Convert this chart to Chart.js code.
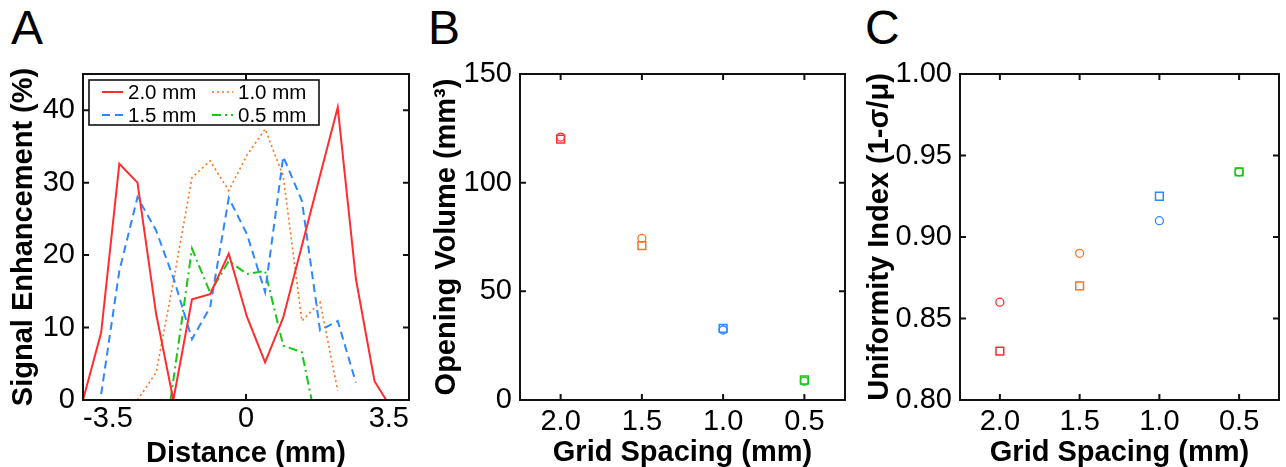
<!DOCTYPE html>
<html>
<head>
<meta charset="utf-8">
<script src="https://cdn.jsdelivr.net/npm/chart.js@4"></script>
<style>
  body { margin: 0; background: #fff; width: 1286px; height: 467px; overflow: hidden; position: relative; }
  .panel { position: absolute; top: 0; }
  .letter { position: absolute; top: 0; font-family: "Liberation Sans", Arial, sans-serif; font-size: 48px; color: #000; }
</style>
</head>
<body>
<div class="letter" style="left:11px">A</div>
<div class="letter" style="left:428px">B</div>
<div class="letter" style="left:865px">C</div>
<canvas class="panel" id="chartA" width="420" height="467" style="left:0px"></canvas>
<canvas class="panel" id="chartB" width="440" height="467" style="left:420px"></canvas>
<canvas class="panel" id="chartC" width="426" height="467" style="left:860px"></canvas>
<script>
// panel A: signal enhancement profiles
var labelsA = ["2.0 mm", "1.5 mm", "1.0 mm", "0.5 mm"];
var distRed = [-3.5, -3.11, -2.72, -2.33, -1.93, -1.56, -1.16, -0.77, -0.37, 0.02, 0.41, 0.80, 1.20, 1.59, 1.97, 2.36, 2.76, 3.01];
var enhRed = [0, 9.3, 32.6, 30, 11.9, 0, 13.9, 14.6, 20.2, 11.5, 5.2, 11.4, 21.3, 31, 40.4, 16.7, 2.6, 0];
var distBlue = [-3.11, -2.72, -2.33, -1.93, -1.54, -1.16, -0.77, -0.37, 0.02, 0.41, 0.80, 1.20, 1.59, 1.97, 2.36];
var enhBlue = [0.8, 17.8, 28, 23.4, 16.5, 8.4, 12.8, 27.9, 22.9, 14.9, 33.6, 27.5, 9.6, 10.9, 2.4];
var distOrange = [-2.33, -1.93, -1.54, -1.16, -0.77, -0.37, 0.02, 0.41, 0.80, 1.20, 1.59, 1.97];
var enhOrange = [0, 3.8, 17, 30.7, 33, 28.9, 33.8, 37.4, 30.9, 10.9, 13.5, 1.3];
var distGreen = [-1.62, -1.16, -0.77, -0.37, 0.02, 0.41, 0.80, 1.20, 1.41];
var enhGreen = [0, 20.9, 14.8, 19.2, 17.4, 17.8, 7.5, 6.6, 0];
var distanceTicks = [-3.5, 0, 3.5];
var enhancementTicks = [0, 10, 20, 30, 40];

// panels B and C: per grid spacing
var spacing = [2.0, 1.5, 1.0, 0.5];
var spacingTicks = [2.0, 1.5, 1.0, 0.5];
var volumeCircle = [121, 74.4, 32.2, 8.7];
var volumeSquare = [120, 71, 33, 9.2];
var volumeTicks = [0, 50, 100, 150];
var uniformityCircle = [0.860, 0.890, 0.910, 0.940];
var uniformitySquare = [0.830, 0.870, 0.925, 0.940];
var uniformityTicks = [0.80, 0.85, 0.90, 0.95, 1.00];

var red = "rgb(255,45,45)";
var blue = "rgb(45,135,255)";
var orange = "rgb(255,115,30)";
var green = "rgb(20,200,20)";
var pointColors = [red, orange, blue, green];
var fontFamily = '"Liberation Sans", Arial, sans-serif';

function toPoints(xs, ys) {
    return xs.map(function (x, i) { return { x: x, y: ys[i] }; });
}

function fixTicks(values) {
    return function (scale) {
        scale.ticks = values.map(function (v) { return { value: v }; });
    };
}

// box around the plot area with inward tick marks on all four sides
var frameTicks = {
    id: "frameTicks",
    afterDraw: function (chart) {
        var ctx = chart.ctx;
        var a = chart.chartArea;
        var xs = chart.scales.x, ys = chart.scales.y;
        ctx.save();
        ctx.strokeStyle = "#111";
        ctx.lineWidth = 2;
        ctx.strokeRect(a.left, a.top, a.right - a.left, a.bottom - a.top);
        ctx.beginPath();
        xs.ticks.forEach(function (t) {
            var px = xs.getPixelForValue(t.value);
            ctx.moveTo(px, a.bottom); ctx.lineTo(px, a.bottom - 6);
            ctx.moveTo(px, a.top); ctx.lineTo(px, a.top + 6);
        });
        ys.ticks.forEach(function (t) {
            var py = ys.getPixelForValue(t.value);
            ctx.moveTo(a.left, py); ctx.lineTo(a.left + 6, py);
            ctx.moveTo(a.right, py); ctx.lineTo(a.right - 6, py);
        });
        ctx.stroke();
        ctx.restore();
    }
};

// boxed two-column legend inside panel A
var boxedLegend = {
    id: "boxedLegend",
    afterDraw: function (chart) {
        var ctx = chart.ctx;
        var a = chart.chartArea;
        var bx = a.left + 6, by = a.top + 6;
        ctx.save();
        ctx.fillStyle = "#fff";
        ctx.fillRect(bx, by, 230, 45);
        ctx.strokeStyle = "#111";
        ctx.lineWidth = 1.6;
        ctx.strokeRect(bx, by, 230, 45);
        ctx.font = "20.5px " + fontFamily;
        ctx.textBaseline = "middle";
        chart.data.datasets.forEach(function (ds, i) {
            var col = Math.floor(i / 2), row = i % 2;
            var lx = bx + 13 + col * 110;
            var ly = by + 12 + row * 23;
            ctx.strokeStyle = ds.borderColor;
            ctx.lineWidth = ds.borderWidth;
            ctx.setLineDash(ds.borderDash || []);
            ctx.beginPath();
            ctx.moveTo(lx, ly); ctx.lineTo(lx + 21, ly);
            ctx.stroke();
            ctx.setLineDash([]);
            ctx.fillStyle = "#000";
            ctx.fillText(ds.label, lx + 26, ly + 1);
        });
        ctx.restore();
    }
};

function axisX(min, max, ticks, title, fmt, reverse, align, tickPad, titlePad) {
    return {
        type: "linear",
        min: min,
        max: max,
        reverse: reverse,
        afterBuildTicks: fixTicks(ticks),
        afterFit: function (s) { s.height = 67; },
        grid: { display: false, drawTicks: false },
        border: { display: false },
        ticks: {
            padding: tickPad,
            align: align,
            maxRotation: 0,
            color: "#000",
            font: { family: fontFamily, size: 29 },
            callback: fmt
        },
        title: {
            display: true,
            text: title,
            color: "#000",
            font: { family: fontFamily, size: 29, weight: "bold", lineHeight: 1 },
            padding: { top: 0, bottom: titlePad }
        }
    };
}

function axisY(min, max, ticks, title, fmt, width, titlePad) {
    return {
        min: min,
        max: max,
        afterBuildTicks: fixTicks(ticks),
        afterFit: function (s) { s.width = width; },
        grid: { display: false, drawTicks: false },
        border: { display: false },
        ticks: {
            padding: 8,
            color: "#000",
            font: { family: fontFamily, size: 29 },
            callback: fmt
        },
        title: {
            display: true,
            text: title,
            color: "#000",
            font: { family: fontFamily, size: 29, weight: "bold", lineHeight: 1 },
            padding: { top: titlePad, bottom: 0 }
        }
    };
}

function lineSet(label, xs, ys, color, dash, width) {
    return {
        label: label,
        data: toPoints(xs, ys),
        showLine: true,
        borderColor: color,
        borderWidth: width,
        borderDash: dash,
        pointRadius: 0,
        fill: false,
        tension: 0
    };
}

new Chart(document.getElementById("chartA").getContext("2d"), {
    type: "scatter",
    data: {
        datasets: [
            lineSet(labelsA[0], distRed, enhRed, red, [], 2),
            lineSet(labelsA[1], distBlue, enhBlue, blue, [8, 5], 2),
            lineSet(labelsA[2], distOrange, enhOrange, orange, [2, 3], 1.6),
            lineSet(labelsA[3], distGreen, enhGreen, green, [9, 4, 2, 4], 2)
        ]
    },
    options: {
        responsive: false,
        animation: false,
        layout: { padding: { top: 74, right: 11, bottom: 0, left: 0 } },
        scales: {
            x: axisX(-3.5, 3.5, distanceTicks, "Distance (mm)", function (v) { return String(v); }, false, "inner", 2, -1),
            y: axisY(0, 45, enhancementTicks, "Signal Enhancement (%)", function (v) { return String(v); }, 83, 9)
        },
        plugins: { legend: { display: false }, tooltip: { enabled: false } }
    },
    plugins: [frameTicks, boxedLegend]
});

function markerSets(circles, squares) {
    return [{
        label: "circle",
        data: toPoints(spacing, circles),
        pointStyle: "circle",
        pointRadius: 4,
        pointBorderWidth: 1.3,
        pointBorderColor: pointColors,
        pointBackgroundColor: "rgba(0,0,0,0)"
    }, {
        label: "square",
        data: toPoints(spacing, squares),
        pointStyle: "rect",
        pointRadius: 5.5,
        pointBorderWidth: 1.5,
        pointBorderColor: pointColors,
        pointBackgroundColor: "rgba(0,0,0,0)"
    }];
}

function spacingChart(id, circles, squares, yMin, yMax, yTicks, yTitle, yFmt, rightPad, yTitlePad) {
    new Chart(document.getElementById(id).getContext("2d"), {
        type: "scatter",
        data: { datasets: markerSets(circles, squares) },
        options: {
            responsive: false,
            animation: false,
            layout: { padding: { top: 74, right: rightPad, bottom: 0, left: 0 } },
            scales: {
                x: axisX(0.25, 2.25, spacingTicks, "Grid Spacing (mm)", function (v) { return v.toFixed(1); }, true, "center", 5, 0),
                y: axisY(yMin, yMax, yTicks, yTitle, yFmt, 100, yTitlePad)
            },
            plugins: { legend: { display: false }, tooltip: { enabled: false } }
        },
        plugins: [frameTicks]
    });
}

spacingChart("chartB", volumeCircle, volumeSquare, 0, 150, volumeTicks,
    "Opening Volume (mm\u00B3)", function (v) { return String(v); }, 15, 12);
spacingChart("chartC", uniformityCircle, uniformitySquare, 0.8, 1.0, uniformityTicks,
    "Uniformity Index (1-\u03C3/\u03BC)", function (v) { return v.toFixed(2); }, 3, 5);
</script>
</body>
</html>
